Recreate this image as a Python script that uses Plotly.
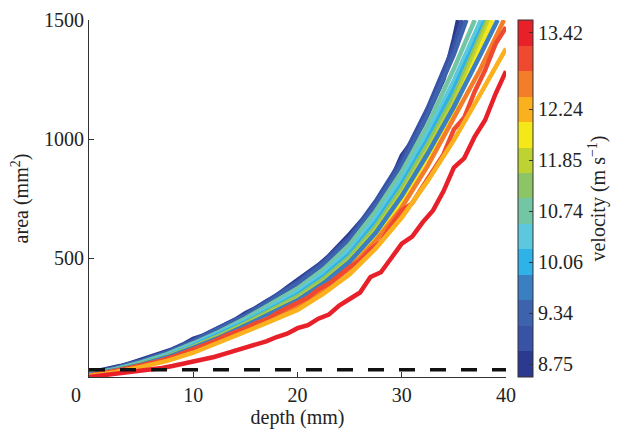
import plotly.graph_objects as go

# velocity bands (bottom -> top of colour bar) and their colours
band_colors = ["#2b3a8f", "#3853a5", "#3d62ae", "#3a7fc1", "#2fb2e8", "#5cc8de",
               "#72c6a4", "#8cc466", "#bed232", "#f4e81a", "#fbb01e", "#f47d2a",
               "#ef4a30", "#e8202a"]
tick_index = [1, 3, 5, 7, 9, 11, 14]
tick_labels = ["8.75", "9.34", "10.06", "10.74", "11.85", "12.24", "13.42"]

# curves: depth (mm) and area (mm^2)
d25 = [0, 2.5, 5, 7.5, 10, 12.5, 15, 17.5, 20, 22.5, 25, 27.5, 30, 32.5, 35]
d1 = list(range(0, 36))

c14_x = d1 + [35.4]
c14_y = [18, 26, 36, 46, 58, 72, 85, 100, 116, 136, 160, 175, 196, 214, 240, 268,
         290, 318, 342, 376, 408, 440, 470, 508, 552, 600, 650, 690, 755, 830, 930,
         990, 1060, 1160, 1250, 1420, 1500]
c13_x = d25 + [35.8]
c13_y = [16, 38, 68, 106, 153, 206, 262, 330, 400, 484, 588, 738, 912, 1130, 1390, 1500]
c12_x = d25 + [36.2]
c12_y = [14, 36, 66, 102, 149, 200, 256, 322, 392, 474, 576, 722, 890, 1105, 1355, 1500]
c8_x = d25 + [37.0]
c8_y = [12, 33, 61, 96, 141, 190, 246, 308, 372, 452, 556, 696, 862, 1060, 1295, 1500]
c9_x = d25 + [37.6]
c9_y = [12, 31, 58, 92, 136, 184, 236, 296, 357, 436, 532, 668, 832, 1025, 1245, 1500]
c10_x = d25 + [38.0]
c10_y = [11, 30, 56, 89, 131, 178, 230, 287, 346, 422, 516, 648, 810, 1000, 1210, 1500]
c7_x = d25 + [38.2]
c7_y = [11, 29, 55, 87, 128, 174, 226, 280, 338, 412, 504, 632, 792, 978, 1180, 1500]
c6_x = d25 + [38.4]
c6_y = [10, 28, 53, 84, 124, 169, 220, 272, 328, 400, 490, 616, 772, 955, 1155, 1500]
c5_x = d25 + [38.7]
c5_y = [9, 26, 50, 80, 118, 162, 212, 262, 308, 383, 472, 594, 742, 925, 1125, 1500]
c11_x = d25 + [37.5, 39.2]
c11_y = [10, 28, 52, 83, 122, 166, 216, 268, 322, 394, 484, 606, 760, 940, 1135, 1350, 1500]
c3_x = d25 + [37.5, 39.8]
c3_y = [6, 24, 47, 75, 112, 156, 204, 252, 298, 370, 456, 572, 712, 888, 1085, 1290, 1500]
c2_x = list(range(0, 41))
c2_y = [5, 12, 20, 30, 38, 48, 60, 70, 84, 100, 118, 134, 150, 172, 186, 204, 226,
        240, 268, 288, 312, 334, 368, 392, 430, 462, 490, 536, 568, 640, 700, 730,
        800, 870, 935, 1040, 1090, 1200, 1290, 1400, 1470]
c4_x = d25 + [37.5, 40]
c4_y = [4, 20, 42, 68, 102, 144, 190, 236, 282, 350, 432, 540, 670, 825, 995, 1185, 1380]
c1_x = list(range(0, 41))
c1_y = [0, 5, 10, 14, 20, 25, 32, 38, 46, 55, 65, 74, 84, 97, 110, 125, 136, 150,
        168, 182, 205, 218, 245, 262, 300, 330, 355, 420, 440, 500, 560, 590, 650,
        700, 780, 880, 920, 1010, 1080, 1190, 1285]

# (position in colour bar counted from the top, x, y)
curves = [
    (14, c14_x, c14_y), (13, c13_x, c13_y), (12, c12_x, c12_y), (8, c8_x, c8_y),
    (9, c9_x, c9_y), (10, c10_x, c10_y), (7, c7_x, c7_y), (6, c6_x, c6_y),
    (5, c5_x, c5_y), (11, c11_x, c11_y), (3, c3_x, c3_y), (2, c2_x, c2_y),
    (4, c4_x, c4_y), (1, c1_x, c1_y),
]

threshold_x = [0, 40]
threshold_y = [30, 30]

FONT = "Liberation Serif"

fig = go.Figure()
for band_top, xs, ys in curves:
    color = band_colors[14 - band_top]
    fig.add_trace(go.Scatter(x=xs, y=ys, mode="lines",
                             line=dict(color=color, width=4.5),
                             showlegend=False, hoverinfo="skip"))

fig.add_trace(go.Scatter(x=threshold_x, y=threshold_y, mode="lines",
                         line=dict(color="#111111", width=3.5, dash="16px,15px"),
                         showlegend=False, hoverinfo="skip"))

# discrete colour scale
n = len(band_colors)
cs = []
for i, c in enumerate(band_colors):
    cs.append([i / n, c])
    cs.append([(i + 1) / n, c])

fig.add_trace(go.Scatter(
    x=[20], y=[-5000], mode="markers", showlegend=False, hoverinfo="skip",
    marker=dict(color=[1], colorscale=cs, cmin=0.5, cmax=14.5, showscale=True,
                opacity=0,
                colorbar=dict(
                    x=1.029, xanchor="left", xpad=0, ypad=0,
                    y=0.5, yanchor="middle", len=1.0, lenmode="fraction",
                    thickness=15, outlinewidth=1, outlinecolor="#333333",
                    tickvals=tick_index, ticktext=tick_labels,
                    ticks="inside", ticklen=4, tickcolor="#333333",
                    tickfont=dict(family=FONT, size=20, color="#222222"),
                    title=dict(text="velocity (m s<sup>−1</sup>)", side="right",
                               font=dict(family=FONT, size=20, color="#222222")),
                ))))

# the page adds an 8px body margin, so the figure is sized to fit the window
fig.update_layout(
    width=619, height=426,
    margin=dict(l=81, r=121, t=12, b=57, autoexpand=False),
    paper_bgcolor="white", plot_bgcolor="white",
    font=dict(family=FONT, size=20, color="#222222"),
    xaxis=dict(range=[0, 40], tickvals=[10, 20, 30, 40], ticks="inside", ticklen=5,
               tickcolor="#333333", showline=True, linecolor="#333333", linewidth=1,
               showgrid=False, zeroline=False, automargin=False,
               ticklabeloverflow="allow",
               title=dict(text="depth (mm)", standoff=0,
                          font=dict(family=FONT, size=20))),
    yaxis=dict(range=[0, 1500], tickvals=[500, 1000, 1500], ticks="inside", ticklen=5,
               tickcolor="#333333", showline=True, linecolor="#333333", linewidth=1,
               showgrid=False, zeroline=False, automargin=False,
               ticklabeloverflow="allow",
               title=dict(text="area (mm<sup>2</sup>)", standoff=10,
                          font=dict(family=FONT, size=20))),
    annotations=[dict(text="0", x=0, y=0, xref="x", yref="y", showarrow=False,
                      xshift=-13, yshift=-18, font=dict(family=FONT, size=20))],
)

fig.write_html("out.html")
